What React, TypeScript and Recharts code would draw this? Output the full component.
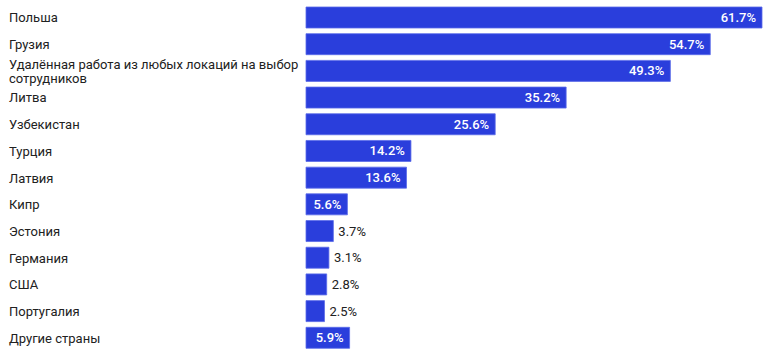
import React from 'react';
import { BarChart, Bar, XAxis, YAxis, LabelList } from 'recharts';

const countries = [
  'Польша',
  'Грузия',
  'Удалённая работа из любых локаций на выбор сотрудников',
  'Литва',
  'Узбекистан',
  'Турция',
  'Латвия',
  'Кипр',
  'Эстония',
  'Германия',
  'США',
  'Португалия',
  'Другие страны',
];
const shares = [61.7, 54.7, 49.3, 35.2, 25.6, 14.2, 13.6, 5.6, 3.7, 3.1, 2.8, 2.5, 5.9];

const data = countries.map((name, i) => ({ name, value: shares[i] }));

const FONT = 'Roboto, "Noto Sans", sans-serif';
const BAR = '#2a3edc';

// split long category names into lines of about 42 characters
function wrap(text: string, max = 42): string[] {
  const words = text.split(' ');
  const lines: string[] = [];
  let cur = '';
  for (const w of words) {
    if (cur && (cur + ' ' + w).length > max) {
      lines.push(cur);
      cur = w;
    } else {
      cur = cur ? cur + ' ' + w : w;
    }
  }
  if (cur) lines.push(cur);
  return lines;
}

function CategoryTick(props: any) {
  const { y, payload } = props;
  const lines = wrap(String(payload.value));
  const lh = 14;
  const start = y - ((lines.length - 1) * lh) / 2;
  return (
    <text x={9} y={start} textAnchor="start" dominantBaseline="central" fontFamily={FONT} fontSize={13} fill="#212121">
      {lines.map((l, i) => (
        <tspan key={i} x={9} y={start + i * lh} dominantBaseline="central">{l}</tspan>
      ))}
    </text>
  );
}

function ValueLabel(props: any) {
  const { x, y, width, height, value } = props;
  const inside = value >= 5;
  const text = `${value.toFixed(1)}%`;
  const cy = y + height / 2;
  if (inside) {
    return (
      <text x={x + width - 6} y={cy} textAnchor="end" dominantBaseline="central" fontFamily={FONT} fontSize={13} fontWeight={500} fill="#ffffff">
        {text}
      </text>
    );
  }
  return (
    <text x={x + width + 5} y={cy} textAnchor="start" dominantBaseline="central" fontFamily={FONT} fontSize={13} fill="#212121">
      {text}
    </text>
  );
}

export default function App() {
  return (
    <div style={{ position: 'absolute', left: 0, top: 0, width: 770, height: 355, background: '#fff' }}>
      <BarChart
        width={770}
        height={355}
        data={data}
        layout="vertical"
        margin={{ top: 4, right: 8, bottom: 4, left: 0 }}
        barCategoryGap={0}
      >
        <XAxis type="number" domain={[0, 'dataMax']} hide />
        <YAxis type="category" dataKey="name" width={306} axisLine={false} tickLine={false} tick={<CategoryTick />} interval={0} />
        <Bar dataKey="value" fill={BAR} stroke="#5b6be8" strokeWidth={0.8} barSize={21} isAnimationActive={false}>
          <LabelList dataKey="value" content={<ValueLabel />} />
        </Bar>
      </BarChart>
    </div>
  );
}
